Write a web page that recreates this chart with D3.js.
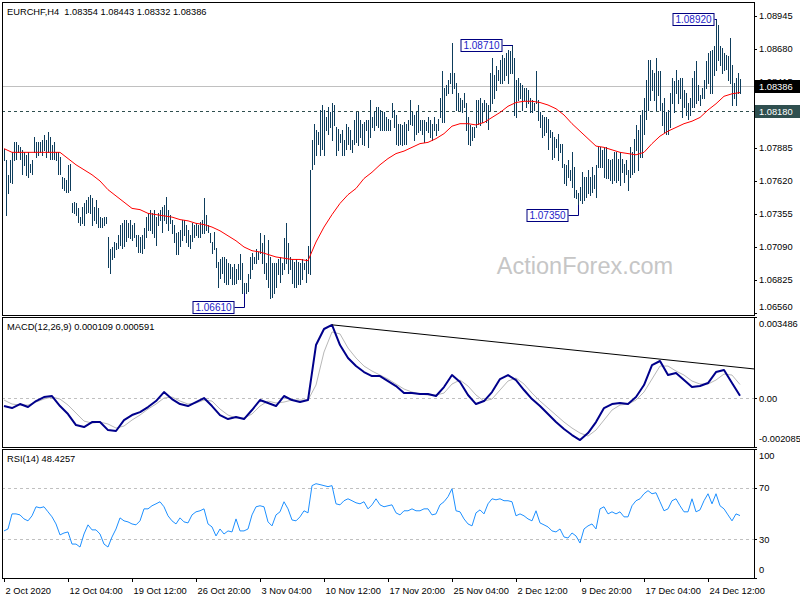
<!DOCTYPE html>
<html><head><meta charset="utf-8">
<script src="https://cdnjs.cloudflare.com/ajax/libs/d3/7.8.5/d3.min.js"></script>
<style>html,body{margin:0;padding:0;background:#fff;}svg{display:block;font-family:"Liberation Sans",Arial,sans-serif;}</style>
</head><body><svg id="c" width="800" height="600"></svg>
<script>
const symbolTitle = "EURCHF,H4  1.08354 1.08443 1.08332 1.08386";
const macdTitle = "MACD(12,26,9) 0.000109 0.000591";
const rsiTitle = "RSI(14) 48.4257";
const watermark = "ActionForex.com";

const highs = [
1.0788,1.0779,1.0767,1.0779,1.0785,1.0793,1.0793,1.0791,1.0789,1.0787,
1.0785,1.0783,1.0785,1.0776,1.0779,1.0797,1.0793,1.0793,1.0793,1.0795,
1.0799,1.0795,1.0801,1.0797,1.0791,1.0793,1.0785,1.0785,1.0781,1.0765,
1.0764,1.0763,1.0775,1.0776,1.0744,1.0745,1.0744,1.0740,1.0733,1.0741,
1.0744,1.0747,1.0749,1.0751,1.0748,1.0741,1.0747,1.0740,1.0733,1.0732,
1.0733,1.0733,1.0717,1.0707,1.0709,1.0713,1.0712,1.0719,1.0727,1.0728,
1.0731,1.0731,1.0728,1.0731,1.0727,1.0728,1.0719,1.0719,1.0717,1.0719,
1.0724,1.0733,1.0736,1.0739,1.0736,1.0739,1.0733,1.0736,1.0739,1.0741,
1.0743,1.0749,1.0739,1.0735,1.0731,1.0727,1.0720,1.0721,1.0723,1.0731,
1.0731,1.0727,1.0723,1.0719,1.0728,1.0727,1.0728,1.0727,1.0729,1.0731,
1.0748,1.0735,1.0727,1.0720,1.0713,1.0721,1.0708,1.0697,1.0699,1.0701,
1.0701,1.0699,1.0696,1.0695,1.0693,1.0695,1.0691,1.0695,1.0703,1.0696,
1.0680,1.0680,1.0687,1.0701,1.0704,1.0701,1.0707,1.0705,1.0720,1.0712,
1.0719,1.0696,1.0715,1.0701,1.0696,1.0696,1.0696,1.0699,1.0701,1.0696,
1.0716,1.0728,1.0712,1.0701,1.0699,1.0697,1.0699,1.0697,1.0696,1.0699,
1.0696,1.0699,1.0710,1.0771,1.0795,1.0808,1.0803,1.0801,1.0819,1.0823,
1.0819,1.0813,1.0821,1.0817,1.0825,1.0823,1.0805,1.0804,1.0800,1.0803,
1.0795,1.0808,1.0805,1.0803,1.0795,1.0811,1.0817,1.0817,1.0811,1.0808,
1.0809,1.0811,1.0811,1.0827,1.0813,1.0817,1.0821,1.0821,1.0819,1.0817,
1.0817,1.0813,1.0812,1.0811,1.0825,1.0819,1.0815,1.0808,1.0808,1.0807,
1.0809,1.0808,1.0811,1.0827,1.0817,1.0815,1.0817,1.0823,1.0811,1.0811,
1.0811,1.0809,1.0813,1.0811,1.0808,1.0813,1.0808,1.0812,1.0829,1.0850,
1.0837,1.0839,1.0843,1.0849,1.0873,1.0849,1.0841,1.0833,1.0829,1.0827,
1.0833,1.0825,1.0813,1.0807,1.0805,1.0805,1.0827,1.0827,1.0829,1.0825,
1.0827,1.0825,1.0823,1.0849,1.0861,1.0847,1.0854,1.0851,1.0859,1.0863,
1.0861,1.0865,1.0867,1.0866,1.0871,1.0861,1.0843,1.0845,1.0841,1.0839,
1.0837,1.0837,1.0835,1.0829,1.0827,1.0825,1.0850,1.0827,1.0817,1.0815,
1.0813,1.0813,1.0812,1.0803,1.0801,1.0797,1.0796,1.0800,1.0792,1.0792,
1.0776,1.0775,1.0779,1.0771,1.0785,1.0773,1.0755,1.0752,1.0757,1.0769,
1.0765,1.0765,1.0771,1.0765,1.0773,1.0767,1.0775,1.0789,1.0789,1.0787,
1.0789,1.0789,1.0780,1.0779,1.0780,1.0785,1.0785,1.0780,1.0785,1.0780,
1.0776,1.0779,1.0771,1.0789,1.0785,1.0796,1.0807,1.0803,1.0815,1.0819,
1.0829,1.0843,1.0859,1.0859,1.0851,1.0849,1.0861,1.0850,1.0850,1.0825,
1.0829,1.0817,1.0819,1.0833,1.0845,1.0842,1.0851,1.0843,1.0845,1.0845,
1.0835,1.0833,1.0825,1.0829,1.0845,1.0850,1.0858,1.0839,1.0831,1.0837,
1.0843,1.0858,1.0865,1.0866,1.0867,1.0870,1.0892,1.0887,1.0870,1.0869,
1.0865,1.0863,1.0862,1.0877,1.0855,1.0841,1.0845,1.0849,1.0844];

const lows = [
1.0779,1.0735,1.0752,1.0761,1.0760,1.0779,1.0780,1.0785,1.0780,1.0768,
1.0775,1.0767,1.0765,1.0769,1.0768,1.0785,1.0781,1.0783,1.0785,1.0783,
1.0787,1.0781,1.0785,1.0780,1.0780,1.0780,1.0779,1.0768,1.0768,1.0756,
1.0755,1.0753,1.0753,1.0755,1.0737,1.0736,1.0735,1.0729,1.0727,1.0728,
1.0727,1.0736,1.0737,1.0736,1.0727,1.0731,1.0728,1.0725,1.0725,1.0725,
1.0727,1.0728,1.0693,1.0688,1.0699,1.0701,1.0707,1.0708,1.0711,1.0708,
1.0710,1.0714,1.0717,1.0716,1.0715,1.0717,1.0710,1.0705,1.0705,1.0704,
1.0708,1.0717,1.0723,1.0723,1.0720,1.0717,1.0711,1.0727,1.0731,1.0721,
1.0731,1.0728,1.0723,1.0728,1.0720,1.0713,1.0703,1.0703,1.0710,1.0715,
1.0719,1.0713,1.0710,1.0708,1.0714,1.0717,1.0719,1.0717,1.0717,1.0720,
1.0720,1.0723,1.0721,1.0713,1.0704,1.0707,1.0693,1.0677,1.0684,1.0688,
1.0681,1.0679,1.0679,1.0684,1.0679,1.0679,1.0680,1.0683,1.0683,1.0672,
1.0672,1.0672,1.0674,1.0684,1.0691,1.0696,1.0696,1.0699,1.0704,1.0696,
1.0688,1.0683,1.0677,1.0668,1.0669,1.0672,1.0677,1.0687,1.0681,1.0687,
1.0691,1.0696,1.0688,1.0691,1.0680,1.0677,1.0677,1.0679,1.0679,1.0683,
1.0691,1.0681,1.0688,1.0687,1.0772,1.0776,1.0783,1.0792,1.0783,1.0788,
1.0783,1.0803,1.0800,1.0805,1.0795,1.0807,1.0783,1.0787,1.0793,1.0783,
1.0783,1.0788,1.0792,1.0788,1.0785,1.0792,1.0793,1.0791,1.0797,1.0792,
1.0791,1.0803,1.0789,1.0797,1.0805,1.0803,1.0807,1.0805,1.0803,1.0803,
1.0803,1.0803,1.0803,1.0803,1.0813,1.0805,1.0792,1.0791,1.0792,1.0791,
1.0792,1.0792,1.0803,1.0808,1.0807,1.0795,1.0800,1.0801,1.0803,1.0800,
1.0793,1.0803,1.0801,1.0797,1.0795,1.0803,1.0799,1.0803,1.0813,1.0809,
1.0809,1.0831,1.0833,1.0841,1.0833,1.0837,1.0819,1.0819,1.0819,1.0817,
1.0821,1.0803,1.0792,1.0791,1.0795,1.0797,1.0805,1.0808,1.0807,1.0809,
1.0819,1.0809,1.0804,1.0819,1.0825,1.0829,1.0835,1.0843,1.0841,1.0841,
1.0843,1.0847,1.0841,1.0849,1.0849,1.0815,1.0813,1.0827,1.0829,1.0819,
1.0827,1.0821,1.0825,1.0817,1.0817,1.0819,1.0825,1.0811,1.0805,1.0797,
1.0799,1.0801,1.0788,1.0797,1.0780,1.0781,1.0789,1.0779,1.0785,1.0773,
1.0760,1.0759,1.0765,1.0763,1.0757,1.0749,1.0748,1.0743,1.0747,1.0744,
1.0747,1.0749,1.0752,1.0751,1.0753,1.0756,1.0749,1.0773,1.0773,1.0773,
1.0765,1.0764,1.0764,1.0763,1.0760,1.0763,1.0761,1.0763,1.0759,1.0769,
1.0761,1.0768,1.0755,1.0765,1.0768,1.0769,1.0787,1.0771,1.0781,1.0781,
1.0800,1.0812,1.0819,1.0827,1.0835,1.0827,1.0819,1.0831,1.0819,1.0807,
1.0801,1.0800,1.0800,1.0805,1.0825,1.0817,1.0833,1.0825,1.0829,1.0813,
1.0821,1.0815,1.0812,1.0815,1.0821,1.0821,1.0825,1.0827,1.0823,1.0829,
1.0829,1.0837,1.0841,1.0833,1.0833,1.0847,1.0851,1.0859,1.0855,1.0849,
1.0851,1.0852,1.0843,1.0841,1.0823,1.0829,1.0823,1.0833,1.0833];

// moving average, one value every 4 bars
const maStep = 4;
const maValues = [
1.0788,1.0785,1.0785,1.0785,1.0785,1.0785,1.0785,1.0785,1.0780,1.0775,
1.0771,1.0767,1.0762,1.0755,1.0750,1.0745,1.0740,1.0739,1.0736,1.0735,
1.0734,1.0733,1.0731,1.0730,1.0728,1.0727,1.0725,1.0722,1.0718,1.0714,
1.0709,1.0706,1.0705,1.0703,1.0701,1.0700,1.0699,1.0699,1.0698,1.0713,
1.0725,1.0735,1.0744,1.0751,1.0756,1.0764,1.0769,1.0775,1.0780,1.0784,
1.0786,1.0789,1.0792,1.0793,1.0796,1.0800,1.0806,1.0808,1.0808,1.0807,
1.0809,1.0813,1.0817,1.0822,1.0825,1.0826,1.0826,1.0825,1.0823,1.0820,
1.0815,1.0808,1.0802,1.0796,1.0790,1.0789,1.0787,1.0785,1.0784,1.0783,
1.0785,1.0792,1.0798,1.0802,1.0805,1.0808,1.0810,1.0813,1.0819,1.0824,
1.0830,1.0832,1.0833];

// MACD main and signal, one value every 4 bars
const macdStep = 4;
const macdMain = [
-0.000330,-0.000416,-0.000244,-0.000373,-0.000116,0.000056,0.000100,-0.000330,-0.000673,-0.001145,
-0.001230,-0.001016,-0.001016,-0.001360,-0.001400,-0.000930,-0.000716,-0.000588,-0.000373,-0.000116,
0.000270,-0.000030,-0.000244,-0.000330,-0.000159,0.000013,-0.000330,-0.000716,-0.000888,-0.000800,
-0.000888,-0.000500,-0.000073,-0.000200,-0.000330,0.000100,-0.000073,-0.000159,-0.000073,0.002285,
0.002972,0.003144,0.002285,0.001728,0.001384,0.001127,0.000956,0.000956,0.000742,0.000527,
0.000227,0.000227,0.000184,0.000184,0.000100,0.000484,0.000998,0.000700,0.000142,-0.000244,
-0.000116,0.000270,0.000827,0.000998,0.000785,0.000356,-0.000030,-0.000330,-0.000673,-0.001016,
-0.001316,-0.001573,-0.001787,-0.001487,-0.001016,-0.000416,-0.000244,-0.000200,-0.000244,0.000056,
0.000570,0.001427,0.001600,0.000998,0.001084,0.000785,0.000484,0.000527,0.000656,0.001127,
0.001213,0.000656,0.000109];
const macdSignal = [
-0.000073,-0.000244,-0.000287,-0.000287,-0.000159,-0.000030,0.000056,-0.000030,-0.000287,-0.000630,
-0.000973,-0.001060,-0.001016,-0.001100,-0.001273,-0.001187,-0.000930,-0.000716,-0.000459,-0.000244,
0.000013,0.000056,-0.000116,-0.000244,-0.000200,-0.000073,-0.000116,-0.000459,-0.000716,-0.000844,
-0.000844,-0.000673,-0.000330,-0.000116,-0.000200,-0.000159,-0.000073,-0.000073,-0.000073,0.000570,
0.001985,0.002845,0.002760,0.002156,0.001728,0.001384,0.001170,0.000998,0.000827,0.000613,
0.000399,0.000270,0.000184,0.000142,0.000142,0.000227,0.000613,0.000785,0.000527,0.000142,
-0.000116,-0.000030,0.000356,0.000742,0.000870,0.000613,0.000227,-0.000116,-0.000416,-0.000716,
-0.001016,-0.001273,-0.001487,-0.001616,-0.001359,-0.000930,-0.000502,-0.000287,-0.000244,-0.000073,
0.000270,0.000827,0.001384,0.001384,0.001170,0.000998,0.000742,0.000613,0.000613,0.000785,
0.001042,0.000998,0.000591];
const macdTrend = [{bar:164, value:0.00315},{bar:375, value:0.00126}];

// RSI, one value every 2 bars
const rsiStep = 2;
const rsiValues = [
36.5,38.0,49.7,49.7,48.9,45.8,44.3,48.2,55.2,54.4,
55.2,51.3,47.4,41.9,33.4,34.9,35.7,26.3,26.3,24.0,
34.1,41.2,37.3,37.3,34.1,26.3,24.0,31.8,38.0,46.6,
44.3,43.5,41.9,41.2,44.3,53.6,53.6,56.0,57.5,59.1,
55.2,48.2,44.3,41.9,46.6,43.5,42.7,48.9,51.3,52.1,
53.6,41.9,39.6,32.6,38.0,34.1,36.5,35.7,45.8,36.5,
36.5,38.0,48.9,55.2,56.0,55.2,43.5,40.4,48.9,51.3,
59.1,53.6,45.0,44.3,47.4,52.1,50.5,71.6,73.1,72.4,
71.6,70.8,71.6,57.5,56.7,59.9,61.4,59.9,58.3,57.5,
59.1,53.6,56.7,61.4,56.7,55.2,56.0,56.7,50.5,48.9,
52.1,52.1,53.6,52.1,52.1,53.6,53.6,48.9,49.7,56.7,
59.1,63.0,69.2,52.1,51.3,45.8,41.9,40.4,50.5,52.8,
49.7,57.5,61.4,60.6,61.4,59.9,59.9,59.1,48.2,49.7,
48.2,45.8,44.3,52.1,42.7,41.2,39.6,36.5,35.7,38.0,
31.8,31.0,34.9,32.6,27.1,38.0,40.4,41.9,38.0,53.6,
55.2,49.7,51.3,49.7,51.3,47.4,47.4,56.0,59.9,61.4,
65.3,67.7,65.3,66.1,59.1,52.1,53.6,59.9,61.4,56.0,
51.3,51.3,61.4,51.3,52.8,59.9,65.3,57.5,65.3,56.0,
53.6,48.9,44.3,49.7,48.4];

const priceTicks = [1.06560,1.06825,1.07090,1.07355,1.07620,1.07885,1.08150,1.08415,1.08680,1.08945];
const macdTicks = [0.003486, 0, -0.002085];
const macdTickLabels = ["0.003486","0.00","-0.002085"];
const rsiTicks = [100,70,30,0];
const rsiLevels = [70,30];
const timeTickBars = [0,32,64,96,128,160,192,224,256,288,320,352];
const timeTickLabels = ["2 Oct 2020","12 Oct 04:00","19 Oct 12:00","26 Oct 20:00","3 Nov 04:00","10 Nov 12:00","17 Nov 20:00","25 Nov 04:00","2 Dec 12:00","9 Dec 20:00","17 Dec 04:00","24 Dec 12:00"];
const lastPrice = 1.08386;
const levelPrice = 1.08180;
const annotations = [
  {bar:356, price:1.08920, text:"1.08920", side:"high"},
  {bar:254, price:1.08710, text:"1.08710", side:"high"},
  {bar:287, price:1.07350, text:"1.07350", side:"low"},
  {bar:120, price:1.06610, text:"1.06610", side:"low"}
];

// ---------- layout ----------
const L = 2, R = 754;
const P = {main:[2,315], macd:[317,447], rsi:[449,578]};
const FONT = 9.3;
const svg = d3.select("#c");

const x = d3.scaleLinear().domain([0, 368]).range([4, 740]);
const yP = d3.scaleLinear().domain([1.06544, 1.09057]).range([P.main[1], P.main[0]]);
const yM = d3.scaleLinear().domain([-0.002085, 0.003486]).range([P.macd[1], P.macd[0]]);
const yR = d3.scaleLinear().domain([0, 100]).range([P.rsi[1], P.rsi[0]]);

const defs = svg.append("defs");
Object.entries(P).forEach(([k,[t,b]])=>{
  defs.append("clipPath").attr("id","clip-"+k).append("rect").attr("x",L).attr("y",t).attr("width",R-L).attr("height",b-t);
});
const cx = v => Math.round(v)+0.5;

// ---------- main panel ----------
const gMain = svg.append("g").attr("clip-path","url(#clip-main)");
gMain.append("text").attr("x",585).attr("y",274).attr("text-anchor","middle")
  .attr("font-size",23.5).attr("fill","#c6c6c6").text(watermark);
gMain.append("line").attr("x1",L).attr("x2",R).attr("y1",cx(yP(lastPrice))).attr("y2",cx(yP(lastPrice)))
  .attr("stroke","#c0c0c0").attr("stroke-width",1);
gMain.append("line").attr("x1",L).attr("x2",R).attr("y1",cx(yP(levelPrice))).attr("y2",cx(yP(levelPrice)))
  .attr("stroke","#2f4f4f").attr("stroke-width",1).attr("stroke-dasharray","3,3");
gMain.append("g").selectAll("line").data(highs).join("line")
  .attr("x1",(d,i)=>cx(x(i))).attr("x2",(d,i)=>cx(x(i)))
  .attr("y1",d=>Math.round(yP(d))).attr("y2",(d,i)=>Math.round(yP(lows[i]))+1)
  .attr("stroke","#0e3d5c").attr("stroke-width",1).attr("shape-rendering","crispEdges");
gMain.append("path").datum(maValues)
  .attr("d", d3.line().x((d,k)=>x(k*maStep)).y(d=>yP(d)))
  .attr("fill","none").attr("stroke","#ff0000").attr("stroke-width",1);

const annGap = [2,10,10,10];
annotations.forEach((a,j)=>{
  const bx = cx(x(a.bar)), by = cx(yP(a.price));
  const bw = 42, bh = 12, right = bx - annGap[j];
  const endY = Math.round(yP(a.side==="high" ? highs[a.bar] : lows[a.bar]));
  gMain.append("path").attr("d",`M${right},${by}H${bx}V${endY}`).attr("fill","none").attr("stroke","#000080");
  gMain.append("rect").attr("x",right-bw+0.5).attr("y",by-bh/2).attr("width",bw-1).attr("height",bh)
    .attr("fill","#fff").attr("stroke","#000080");
  gMain.append("text").attr("x",right-bw/2).attr("y",by+3.4).attr("text-anchor","middle")
    .attr("font-size",FONT+0.7).attr("fill","#1c1cc8").text(a.text);
});

// ---------- MACD panel ----------
const gM = svg.append("g").attr("clip-path","url(#clip-macd)");
gM.append("line").attr("x1",L).attr("x2",R).attr("y1",cx(yM(0))).attr("y2",cx(yM(0)))
  .attr("stroke","#c0c0c0").attr("stroke-dasharray","3,3");
gM.append("path").datum(macdSignal).attr("d",d3.line().x((d,k)=>x(k*macdStep)).y(d=>yM(d)))
  .attr("fill","none").attr("stroke","#b8b8b8").attr("stroke-width",1);
gM.append("path").datum(macdMain).attr("d",d3.line().x((d,k)=>x(k*macdStep)).y(d=>yM(d)))
  .attr("fill","none").attr("stroke","#00008b").attr("stroke-width",2).attr("stroke-linejoin","round");
gM.append("line").attr("x1",x(macdTrend[0].bar)).attr("y1",yM(macdTrend[0].value))
  .attr("x2",x(macdTrend[1].bar)).attr("y2",yM(macdTrend[1].value)).attr("stroke","#000").attr("stroke-width",1);

// ---------- RSI panel ----------
const gR = svg.append("g").attr("clip-path","url(#clip-rsi)");
rsiLevels.forEach(v=>{
  gR.append("line").attr("x1",L).attr("x2",R).attr("y1",cx(yR(v))).attr("y2",cx(yR(v)))
    .attr("stroke","#c0c0c0").attr("stroke-dasharray","3,3");
});
gR.append("path").datum(rsiValues).attr("d",d3.line().x((d,k)=>x(k*rsiStep)).y(d=>yR(d)))
  .attr("fill","none").attr("stroke","#1e90ff").attr("stroke-width",1);

// ---------- frames ----------
Object.values(P).forEach(([t,b])=>{
  svg.append("rect").attr("x",L+0.5).attr("y",t+0.5).attr("width",R-L).attr("height",b-t)
    .attr("fill","none").attr("stroke","#000").attr("stroke-width",1);
});

// titles
svg.append("text").attr("x",7).attr("y",14.5).attr("font-size",FONT).attr("fill","#000").attr("xml:space","preserve").text(symbolTitle);
svg.append("text").attr("x",7).attr("y",329.5).attr("font-size",FONT).attr("fill","#000").text(macdTitle);
svg.append("text").attr("x",7).attr("y",462).attr("font-size",FONT).attr("fill","#000").text(rsiTitle);

// ---------- right axes ----------
function rightAxis(vals, labels, scale, top, bottom){
  vals.forEach((v,j)=>{
    const yy = scale(v);
    const ty = Math.max(top+7, Math.min(bottom-8, yy));
    svg.append("line").attr("x1",R).attr("x2",R+3).attr("y1",cx(yy)).attr("y2",cx(yy)).attr("stroke","#000");
    svg.append("text").attr("x",R+5).attr("y",ty+3.4).attr("font-size",FONT).attr("fill","#000").text(labels[j]);
  });
}
rightAxis(priceTicks, priceTicks.map(d3.format(".5f")), yP, P.main[0], P.main[1]);
rightAxis(macdTicks, macdTickLabels, yM, P.macd[0], P.macd[1]);
rightAxis(rsiTicks, rsiTicks.map(String), yR, P.rsi[0], P.rsi[1]);

// price tags
[[lastPrice,"#000000"],[levelPrice,"#2f4f4f"]].forEach(([v,c])=>{
  const yy = yP(v);
  svg.append("rect").attr("x",R+1).attr("y",Math.round(yy)-6).attr("width",800-R-1).attr("height",13).attr("fill",c);
  svg.append("text").attr("x",R+5).attr("y",Math.round(yy)+3.9).attr("font-size",FONT).attr("fill","#fff").text(d3.format(".5f")(v));
});

// ---------- time axis ----------
timeTickBars.forEach((b,j)=>{
  const xx = cx(x(b));
  svg.append("line").attr("x1",xx).attr("x2",xx).attr("y1",P.rsi[1]).attr("y2",P.rsi[1]+4).attr("stroke","#000");
  svg.append("text").attr("x",xx+1).attr("y",594).attr("font-size",FONT).attr("fill","#000").text(timeTickLabels[j]);
});
</script></body></html>
